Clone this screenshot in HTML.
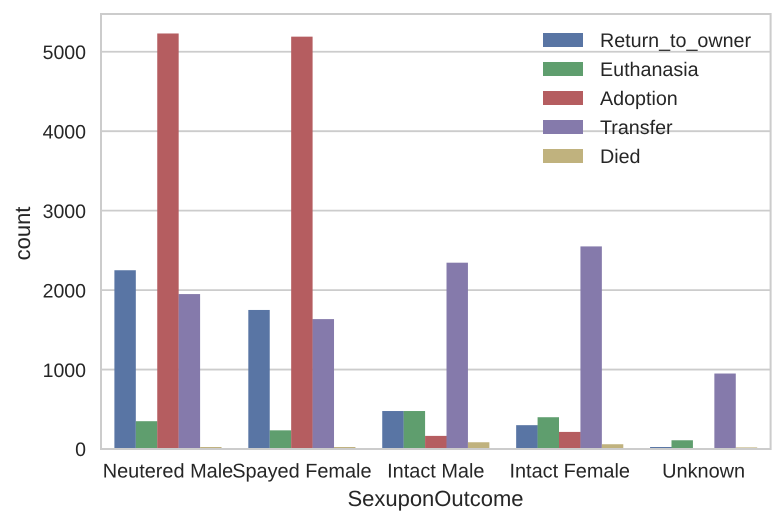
<!DOCTYPE html>
<html>
<head>
<meta charset="utf-8">
<style>
html,body{margin:0;padding:0;background:#fff;width:784px;height:524px;overflow:hidden}
svg{display:block}
text{font-family:"Liberation Sans",Arial,sans-serif;fill:#262626;text-rendering:geometricPrecision}
</style>
</head>
<body>
<svg id="chart" xmlns="http://www.w3.org/2000/svg" width="784" height="524" viewBox="0 0 784 524"></svg>
<script>
const categories = ["Neutered Male","Spayed Female","Intact Male","Intact Female","Unknown"];
const seriesNames = ["Return_to_owner","Euthanasia","Adoption","Transfer","Died"];
const returnToOwner = [2250,1750,478,300,25];
const euthanasia = [350,235,478,400,110];
const adoption = [5230,5190,165,215,0];
const transfer = [1950,1635,2345,2550,950];
const died = [25,25,85,60,20];
const yTicks = [0,1000,2000,3000,4000,5000];
const seriesColors = ["#5975a4","#5f9e6e","#b55d60","#857aab","#c0b27e"];

const seriesValues = [returnToOwner,euthanasia,adoption,transfer,died];
const svg = document.getElementById('chart');
const NS = 'http://www.w3.org/2000/svg';
const L = 101, R = 770.6, T = 14, B = 449;
const yScale = v => B - v * 0.07945;
const bandW = (R - L) / categories.length;
const xBand = i => L + i * bandW;

function make(tag, attrs, text){
  const el = document.createElementNS(NS, tag);
  for (const k in attrs) el.setAttribute(k, attrs[k]);
  if (text !== undefined) el.textContent = text;
  svg.appendChild(el);
  return el;
}

yTicks.forEach(t => {
  if (t === 0) return;
  const g = make('line',{x1:L,x2:R,y1:yScale(t),y2:yScale(t),stroke:'#cccccc','stroke-width':1.8});
  
  
});

seriesValues.forEach((vals, s) => {
  vals.forEach((v, i) => {
    const w = bandW * 0.8 / seriesValues.length;
    const x = xBand(i) + bandW * 0.1 + s * w;
    const r = make('rect',{x:x,y:yScale(v),width:w,height:B - yScale(v),fill:seriesColors[s]});
    
    
  });
});

const frame = make('rect',{x:L,y:T,width:R-L,height:B-T,fill:'none',stroke:'#cccccc','stroke-width':2});



yTicks.forEach(t => {
  const lab = make('text',{x:86,y:yScale(t)+7.2,'text-anchor':'end','font-size':19.5}, String(t));
  
  
});

categories.forEach((c, i) => {
  const lab = make('text',{x:xBand(i)+bandW/2,y:477.5,'text-anchor':'middle','font-size':19.9}, c);
  
  
});

const xTitle = make('text',{x:435.5,y:506,'text-anchor':'middle','font-size':22}, 'SexuponOutcome');



const yTitle = make('text',{x:0,y:0,'text-anchor':'middle','font-size':22,transform:'translate(30,233.5) rotate(-90)'}, 'count');



seriesNames.forEach((n, s) => {
  const y = 33 + s * 29;
  const sw = make('rect',{x:543,y:y,width:40,height:14,fill:seriesColors[s]});
  
  
  const lab = make('text',{x:600,y:y+14,'font-size':19.7}, n);
  
  
});
</script>
</body>
</html>
